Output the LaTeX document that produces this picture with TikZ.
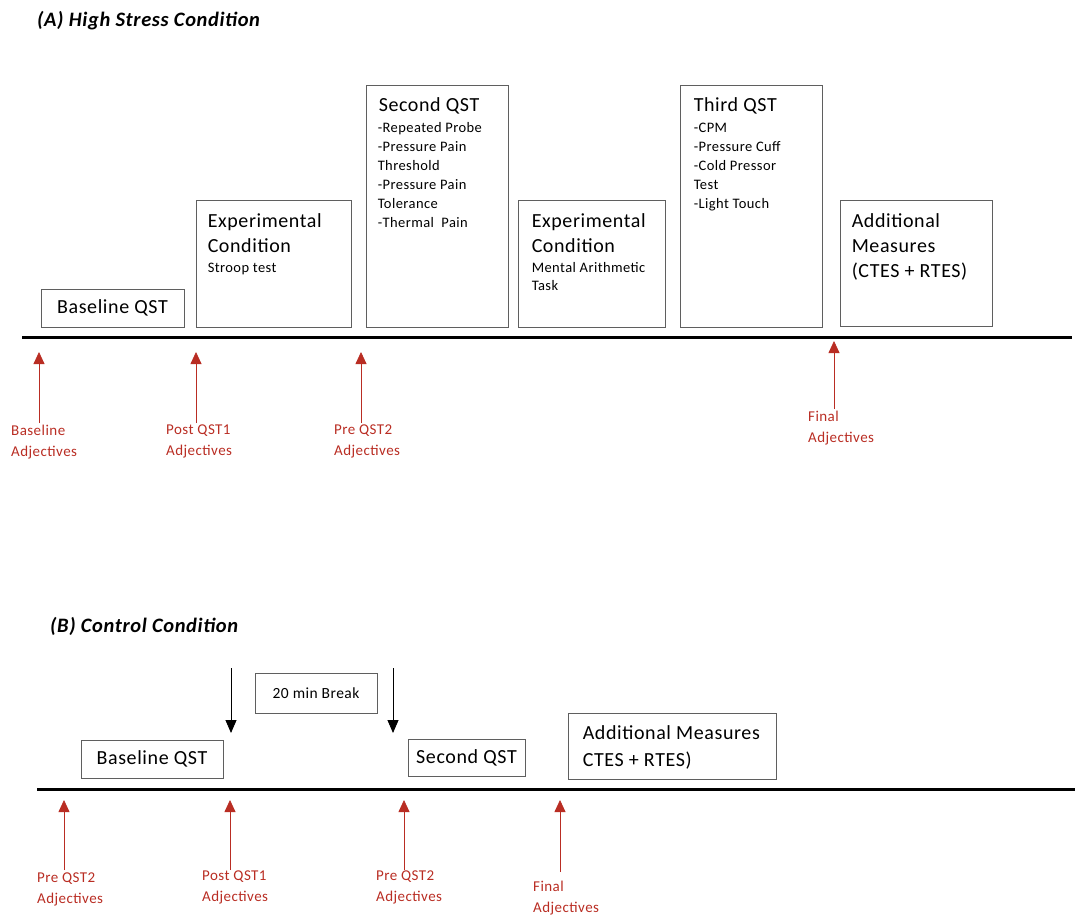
\documentclass[tikz,border=0pt]{standalone}
\usepackage{fontspec}
\setmainfont{Carlito}[LetterSpace=3]
\usetikzlibrary{arrows.meta,positioning}
\definecolor{adjred}{RGB}{185,45,35}
\definecolor{boxgray}{RGB}{95,95,95}

\begin{document}
\begin{tikzpicture}[x=1pt,y=-1pt,
    stagebox/.style={draw=boxgray, line width=0.9pt, inner sep=0pt},
    bigtext/.style={font=\fontsize{20}{25}\selectfont, align=left, inner sep=0pt, anchor=north west},
    smalltext/.style={font=\fontsize{14.5}{19}\selectfont, align=left, inner sep=0pt, anchor=north west},
    adjlabel/.style={text=adjred, font=\fontsize{15}{21}\selectfont, align=left, inner sep=0pt, anchor=north west},
    adjarrow/.style={adjred, line width=0.8pt, -{Triangle[width=11pt,length=12pt]}},
    breakarrow/.style={black, line width=0.9pt, -{Triangle[width=11pt,length=13pt]}},
    timeline/.style={line width=3pt},
    headline/.style={font=\fontsize{20.5}{24}\selectfont\bfseries\itshape, inner sep=0pt, anchor=west}]
    \useasboundingbox (0,0) rectangle (1075,915);

    % (A) high stress
    \node[headline] (titleA) at (37,21) {(A) High Stress Condition};
    \coordinate (lineA0) at (22,337);
    \coordinate (lineA1) at (1072,337);
    \draw[timeline] (lineA0) -- (lineA1);

    \node[stagebox, minimum width=143, minimum height=38, font=\fontsize{20}{24}\selectfont] at (112.5,308) (baseA) {Baseline QST};

    \node[stagebox, minimum width=155, minimum height=127] at (273.5,263.5) (expA) {};
    \node[bigtext] at ([shift={(12,14)}]expA.north west) (expAhead) {Experimental\\Condition};
    \node[smalltext] at ([shift={(12,63)}]expA.north west) (expAitems) {Stroop test};

    \node[stagebox, minimum width=142, minimum height=242] at (437,206) (secA) {};
    \node[bigtext] at ([shift={(13,13)}]secA.north west) (secAhead) {Second QST};
    \node[smalltext] at ([shift={(12,38)}]secA.north west) (secAitems) {-Repeated Probe\\-Pressure Pain\\Threshold\\-Pressure Pain\\Tolerance\\-Thermal\ \ Pain};

    \node[stagebox, minimum width=147, minimum height=127] at (591.5,263.5) (mathA) {};
    \node[bigtext] at ([shift={(14,14)}]mathA.north west) (mathAhead) {Experimental\\Condition};
    \node[smalltext, font=\fontsize{14.5}{18}\selectfont] at ([shift={(14,63)}]mathA.north west) (mathAitems) {Mental Arithmetic\\Task};

    \node[stagebox, minimum width=142, minimum height=242] at (751,206) (thirdA) {};
    \node[bigtext] at ([shift={(14,13)}]thirdA.north west) (thirdAhead) {Third QST};
    \node[smalltext] at ([shift={(14,38)}]thirdA.north west) (thirdAitems) {-CPM\\-Pressure Cuff\\-Cold Pressor\\Test\\-Light Touch};

    \node[stagebox, minimum width=152, minimum height=126] at (916,263) (addA) {};
    \node[bigtext] at ([shift={(12,14)}]addA.north west) (addAtext) {Additional\\Measures\\(CTES + RTES)};

    \node[adjlabel] at (11,425) (adjA1) {Baseline\\Adjectives};
    \node[adjlabel] at (166,425) (adjA2) {Post QST1\\Adjectives};
    \node[adjlabel] at (334,425) (adjA3) {Pre QST2\\Adjectives};
    \node[adjlabel] at (808,411) (adjA4) {Final\\Adjectives};
    \coordinate (tailA1) at (39,423);  \coordinate (tipA1) at (39,352);
    \coordinate (tailA2) at (196,423); \coordinate (tipA2) at (196,352);
    \coordinate (tailA3) at (361,423); \coordinate (tipA3) at (361,352);
    \coordinate (tailA4) at (834,409); \coordinate (tipA4) at (834,341);
    \draw[adjarrow] (tailA1) -- (tipA1);
    \draw[adjarrow] (tailA2) -- (tipA2);
    \draw[adjarrow] (tailA3) -- (tipA3);
    \draw[adjarrow] (tailA4) -- (tipA4);

    % (B) control
    \node[headline] (titleB) at (50,626) {(B) Control Condition};
    \coordinate (lineB0) at (37,789);
    \coordinate (lineB1) at (1075,789);
    \draw[timeline] (lineB0) -- (lineB1);

    \node[stagebox, minimum width=142, minimum height=38, font=\fontsize{20}{24}\selectfont] at (152,759) (baseB) {Baseline QST};
    \node[stagebox, minimum width=122, minimum height=40, font=\fontsize{15.5}{18}\selectfont] at (316,693) (breakB) {20 min Break};
    \node[stagebox, minimum width=117, minimum height=37, font=\fontsize{20}{24}\selectfont] at (466.5,757.5) (secB) {Second QST};
    \node[stagebox, minimum width=208, minimum height=66] at (672,746) (addB) {};
    \node[bigtext, font=\fontsize{20}{27}\selectfont] at ([shift={(15,13)}]addB.north west) (addBtext) {Additional Measures\\CTES + RTES)};

    \coordinate (brkL0) at (231,668); \coordinate (brkL1) at (231,733);
    \coordinate (brkR0) at (393,668); \coordinate (brkR1) at (393,733);
    \draw[breakarrow] (brkL0) -- (brkL1);
    \draw[breakarrow] (brkR0) -- (brkR1);

    \node[adjlabel] at (37,873) (adjB1) {Pre QST2\\Adjectives};
    \node[adjlabel] at (202,871) (adjB2) {Post QST1\\Adjectives};
    \node[adjlabel] at (376,871) (adjB3) {Pre QST2\\Adjectives};
    \node[adjlabel] at (533,881) (adjB4) {Final\\Adjectives};
    \coordinate (tailB1) at (64,870);  \coordinate (tipB1) at (64,800);
    \coordinate (tailB2) at (230,870); \coordinate (tipB2) at (230,800);
    \coordinate (tailB3) at (404,870); \coordinate (tipB3) at (404,800);
    \coordinate (tailB4) at (560,872); \coordinate (tipB4) at (560,800);
    \draw[adjarrow] (tailB1) -- (tipB1);
    \draw[adjarrow] (tailB2) -- (tipB2);
    \draw[adjarrow] (tailB3) -- (tipB3);
    \draw[adjarrow] (tailB4) -- (tipB4);
\end{tikzpicture}
\end{document}
